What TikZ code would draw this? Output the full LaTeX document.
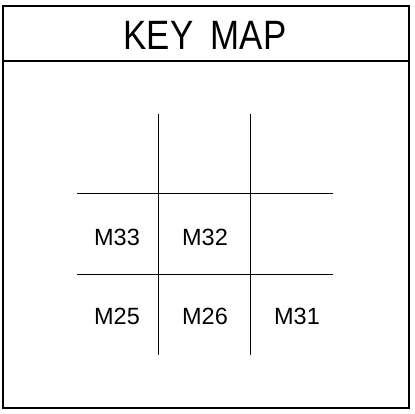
\documentclass[tikz,border=0pt]{standalone}
\usepackage{fontspec}
\setmainfont{Liberation Sans}
\usetikzlibrary{positioning}
\begin{document}
\begin{tikzpicture}[x=1pt, y=-1pt,
  frame/.style={draw, line width=1.2pt},
  gridline/.style={draw, line width=0.9pt},
  sheet/.style={font=\fontsize{23.5}{24}\selectfont, inner sep=0pt},
  title/.style={font=\fontsize{41}{41}\selectfont, inner sep=0pt, xscale=0.85, transform shape}
]
\useasboundingbox (0,0) rectangle (415,413);
% outer frame and title strip
\draw[frame] (3,6) rectangle (409,408);
\draw[frame] (3,61) -- (409,61);
\node[title] (keymap) at (205,35) {KEY\hspace{0.5em}MAP};

% sheet grid
\draw[gridline] (158,114) -- (158,355);
\draw[gridline] (250,114) -- (250,355);
\draw[gridline] (77,193) -- (333,193);
\draw[gridline] (77,274) -- (333,274);

% sheet numbers
\node[sheet] (m33) at (117,237) {M33};
\node[sheet] (m32) at (205,237) {M32};
\node[sheet] (m25) at (117,316) {M25};
\node[sheet] (m26) at (205,316) {M26};
\node[sheet] (m31) at (297,316) {M31};
\end{tikzpicture}
\end{document}
